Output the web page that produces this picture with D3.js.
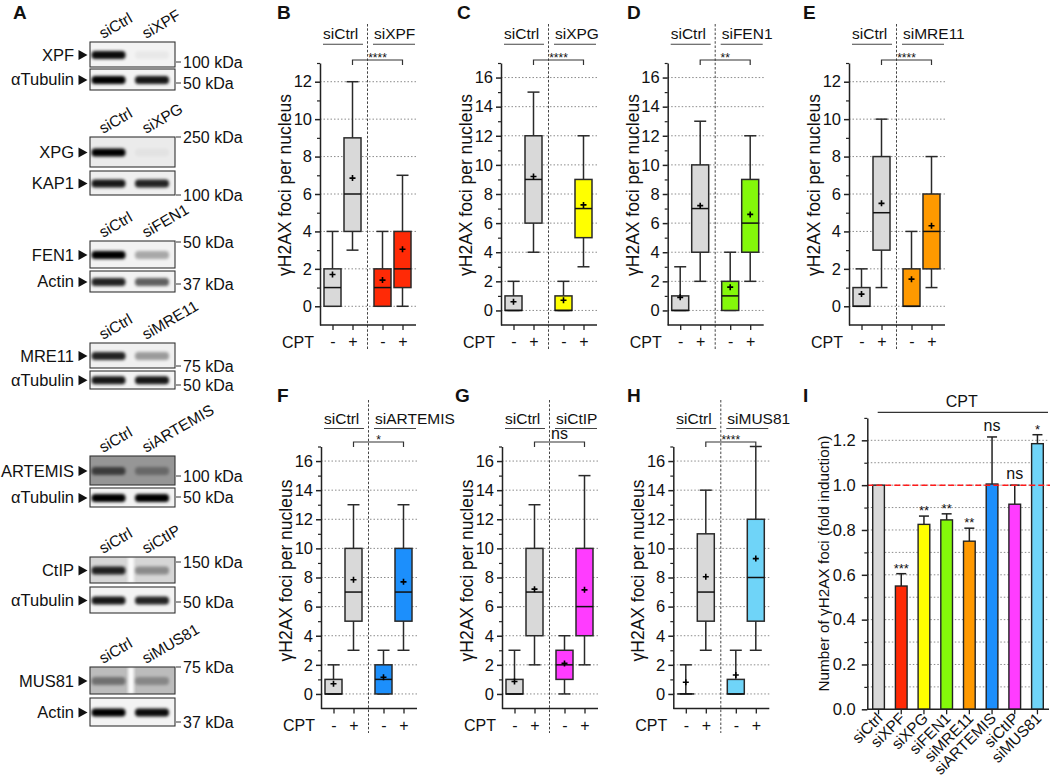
<!DOCTYPE html>
<html><head><meta charset="utf-8">
<script src="https://cdn.jsdelivr.net/npm/d3@7"></script>
<style>
body{margin:0;background:#fff}
svg{display:block}
text{font-family:"Liberation Sans",Arial,Helvetica,sans-serif;fill:#111}
</style>
</head><body>
<svg id="fig" width="1050" height="783"></svg>
<script>
// ---------------- DATA ----------------
const panelLetters = ["A","B","C","D","E","F","G","H","I"];
const controlLabel = "siCtrl";
const knockdowns = ["siXPF","siXPG","siFEN1","siMRE11","siARTEMIS","siCtIP","siMUS81"];
const cptLabels = ["-","+","-","+"];
const cptTitle = "CPT";
const boxYLabel = "γH2AX foci per nucleus";

// per condition: [whiskerLow, q1, median, q3, whiskerHigh, mean]
// order: siCtrl -CPT, siCtrl +CPT, siKD -CPT, siKD +CPT
const statsB = [[0,0,1,2,4,1.7],[3,4,6,9,12,6.85],[0,0,1,2,4,1.4],[0,1,2,4,7,3.05]];
const statsC = [[0,0,0,1,2,0.6],[4,6,9,12,15,9.2],[0,0,0,1,2,0.7],[3,5,7,9,12,7.25]];
const statsD = [[0,0,0,1,3,0.9],[2,4,7,10,13,7.2],[0,0,1,2,4,1.6],[2,4,6,9,12,6.6]];
const statsE = [[0,0,0,1,2,0.65],[1,3,5,8,10,5.5],[0,0,0,2,4,1.45],[1,2,4,6,8,4.3]];
const statsF = [[0,0,0,1,2,0.7],[3,5,7,10,13,7.85],[0,0,1,2,3,1.15],[3,5,7,10,13,7.7]];
const statsG = [[0,0,0,1,3,0.85],[2,4,7,10,13,7.2],[0,1,2,3,4,2.1],[2,4,6,10,15,7.15]];
const statsH = [[0,0,0,0,2,0.8],[3,5,7,11,14,8.05],[0,0,0,1,3,1.3],[3,5,8,12,17,9.3]];
const boxYMax = [13,17,17,13,17,17,17];
const boxSig = ["****","****","**","****","*","ns","****"];

// Panel I
const foldCategories = ["siCtrl","siXPF","siXPG","siFEN1","siMRE11","siARTEMIS","siCtIP","siMUS81"];
const foldValues = [1.0,0.55,0.825,0.845,0.75,1.005,0.915,1.185];
const foldErrors = [0,0.055,0.037,0.027,0.058,0.21,0.085,0.04];
const foldSig = ["","***","**","**","**","ns","ns","*"];
const foldTicks = [0,0.2,0.4,0.6,0.8,1.0,1.2];
const foldYLabel = "Number of γH2AX foci (fold induction)";
const foldReference = 1.0;

// Panel A (western blots)
const blotTargets = ["XPF","XPG","FEN1","MRE11","ARTEMIS","CtIP","MUS81"];
const loadingControls = ["αTubulin","KAP1","Actin","αTubulin","αTubulin","αTubulin","Actin"];
const targetBands = [[0.95,0.04],[1,0.03],[1,0.3],[0.85,0.35],[0.6,0.3],[0.85,0.35],[0.4,0.28]];
const controlBands = [[1,0.9],[0.9,0.85],[0.85,0.6],[0.9,0.9],[1,1],[0.9,0.85],[1,0.95]];
const markerTop = ["100 kDa","250 kDa","50 kDa","75 kDa","100 kDa","150 kDa","75 kDa"];
const markerBottom = ["50 kDa","100 kDa","37 kDa","50 kDa","50 kDa","50 kDa","37 kDa"];

// ---------------- STYLE / LAYOUT ----------------
const ctrlColor = "#d9d9d9";
const kdColors = ["#ff2a06","#ffff00","#84f80a","#ff9900","#1c8ffc","#ff3cff","#6fd4f8"];
const FONT = 16, FONT_S = 15.5;
const svg = d3.select("#fig");
const defs = svg.append("defs");
defs.append("filter").attr("id","blur").attr("x","-30%").attr("y","-150%").attr("width","160%").attr("height","400%")
  .append("feGaussianBlur").attr("stdDeviation",1.5);
defs.append("filter").attr("id","blur2").attr("x","-30%").attr("y","-150%").attr("width","160%").attr("height","400%")
  .append("feGaussianBlur").attr("stdDeviation",3);

// letters
const letterPos = [[13,19],[277,19],[457,19],[627,19],[803,19],[277,402],[455,402],[627,402],[803,402]];
panelLetters.forEach((l,i)=>svg.append("text").attr("x",letterPos[i][0]).attr("y",letterPos[i][1])
  .attr("font-size",19).attr("font-weight","bold").text(l));

// ---------------- PANEL A ----------------
const blotLayout = [
 {tTop:42,tH:25,cTop:69,cH:21,m1:62,m2:83},
 {tTop:137,tH:30,cTop:171,cH:24,m1:137,m2:195},
 {tTop:241,tH:27,cTop:271,cH:21,m1:242,m2:284},
 {tTop:343,tH:25,cTop:371,cH:18,m1:366,m2:385},
 {tTop:456,tH:29,cTop:488,cH:19,m1:476,m2:497},
 {tTop:557,tH:26,cTop:587,cH:26,m1:562,m2:602},
 {tTop:667,tH:27,cTop:698,cH:28,m1:667,m2:722}
];
const targetBg = ["#f3f3f3","#ebebeb","#f2f2f2","#f0f0f0","#a7a7a7","#d6d6d6","#bcbcbc"];
const controlBg = ["#f3f3f3","#efefef","#f2f2f2","#f3f3f3","#f3f3f3","#f3f3f3","#f3f3f3"];
const blotX = 90, blotW = 85, laneX = [108.5,152], bandHalf = 17;
blotTargets.forEach((name,i)=>{
  const L = blotLayout[i];
  const g = svg.append("g");
  [controlLabel, knockdowns[i]].forEach((t,k)=>g.append("text")
     .attr("transform",`translate(${[103,146][k]},${L.tTop-3}) rotate(-30)`)
     .attr("font-size",FONT_S).text(t));
  const rows = [
    {top:L.tTop,h:L.tH,bands:targetBands[i],bg:targetBg[i],label:name,gap:(i>=5)},
    {top:L.cTop,h:L.cH,bands:controlBands[i],bg:controlBg[i],label:loadingControls[i],gap:false}
  ];
  rows.forEach((r,ri)=>{
    const cid = `clip${i}_${ri}`;
    defs.append("clipPath").attr("id",cid).append("rect").attr("x",blotX).attr("y",r.top).attr("width",blotW).attr("height",r.h);
    const bg = g.append("g").attr("clip-path",`url(#${cid})`);
    bg.append("rect").attr("x",blotX).attr("y",r.top).attr("width",blotW).attr("height",r.h).attr("fill",r.bg);
    if(i===4 && ri===0){
      bg.append("rect").attr("x",blotX-5).attr("y",r.top-5).attr("width",blotW+10).attr("height",r.h+10)
        .attr("fill","#777").attr("opacity",0.35).attr("filter","url(#blur2)");
    }
    if(r.gap){
      bg.append("rect").attr("x",128).attr("y",r.top).attr("width",6).attr("height",r.h).attr("fill","#fafafa").attr("filter","url(#blur)");
    }
    const by = r.top + r.h*0.52;
    r.bands.forEach((v,k)=>{
      bg.append("rect").attr("x",laneX[k]-bandHalf).attr("y",by-4).attr("width",bandHalf*2).attr("height",8).attr("rx",3.5)
        .attr("fill","#000").attr("opacity",v).attr("filter","url(#blur)");
    });
    g.append("rect").attr("x",blotX).attr("y",r.top).attr("width",blotW).attr("height",r.h)
      .attr("fill","none").attr("stroke","#333").attr("stroke-width",1.1);
    g.append("text").attr("x",74).attr("y",by+5.5).attr("text-anchor","end").attr("font-size",16.5).text(r.label);
    g.append("path").attr("d",`M78.5,${by-5}L87.5,${by}L78.5,${by+5}Z`).attr("fill","#111");
  });
  [[L.m1,markerTop[i]],[L.m2,markerBottom[i]]].forEach(([my,t])=>{
    g.append("line").attr("x1",176).attr("x2",181).attr("y1",my).attr("y2",my).attr("stroke","#333");
    g.append("text").attr("x",183).attr("y",my+5.5).attr("font-size",FONT).text(t);
  });
});

// ---------------- BOX PANELS B-H ----------------
const boxStats = [statsB,statsC,statsD,statsE,statsF,statsG,statsH];
const boxX0 = [320,501,667.7,849,321,502,673.3];
const boxRow = [0,0,0,0,1,1,1];
const rowsL = [
  {yBot:325,yTop:63,labelY:33,lineY:44.3,bracketY:60,divTop:24,divBot:350,ylabShift:-9},
  {yBot:708.5,yTop:446.5,labelY:418,lineY:428.5,bracketY:442,divTop:400,divBot:733,ylabShift:-7}
];
const slots = [0,1,2.5,3.5];
boxStats.forEach((stats,i)=>{
  const R = rowsL[boxRow[i]], x0 = boxX0[i], xEnd = x0+96;
  const g = svg.append("g");
  const y = d3.scaleLinear().domain([-1,boxYMax[i]]).range([R.yBot,R.yTop]);
  const sx = d3.scaleLinear().domain([0,3.5]).range([x0+12.5,x0+82.5]);
  const majors = d3.range(0,boxYMax[i],2);
  const minors = d3.range(1,boxYMax[i]+1,2);
  // grid
  g.selectAll(".grid").data(majors).join("line")
    .attr("x1",x0).attr("x2",xEnd).attr("y1",d=>y(d)).attr("y2",d=>y(d))
    .attr("stroke","#8c8c8c").attr("stroke-width",1).attr("stroke-dasharray","1.5,2");
  // divider
  g.append("line").attr("x1",sx(1.75)).attr("x2",sx(1.75)).attr("y1",R.divTop).attr("y2",R.divBot)
    .attr("stroke","#444").attr("stroke-width",1).attr("stroke-dasharray","2.5,1.8");
  // y axis
  const ax = g.append("g").attr("transform",`translate(${x0},0)`)
    .call(d3.axisLeft(y).tickValues(majors).tickSize(5).tickSizeOuter(0).tickPadding(3).tickFormat(d3.format("d")));
  ax.attr("font-family",null).attr("font-size",null);
  ax.selectAll("text").attr("font-size",16.5).attr("fill","#111");
  ax.selectAll("line,path").attr("stroke","#222").attr("stroke-width",1.5);
  const axm = g.append("g").attr("transform",`translate(${x0},0)`)
    .call(d3.axisLeft(y).tickValues(minors).tickSize(3).tickFormat(""));
  axm.select(".domain").remove();
  axm.selectAll("line").attr("stroke","#222").attr("stroke-width",1.2);
  // x axis
  g.append("line").attr("x1",x0).attr("x2",xEnd).attr("y1",y(-1)).attr("y2",y(-1)).attr("stroke","#222").attr("stroke-width",1.5);
  const xa = g.append("g").attr("transform",`translate(0,${y(-1)})`)
    .call(d3.axisBottom(sx).tickValues(slots).tickSize(5).tickPadding(6).tickFormat((d,j)=>cptLabels[j]));
  xa.attr("font-family",null).attr("font-size",null);
  xa.select(".domain").remove();
  xa.selectAll("line").attr("stroke","#222").attr("stroke-width",1.3);
  xa.selectAll("text").attr("font-size",FONT).attr("fill","#111");
  g.append("text").attr("x",x0-6).attr("y",y(-1)+22.5).attr("text-anchor","end").attr("font-size",FONT).text(cptTitle);
  // y label
  g.append("text").attr("transform",`translate(${x0-35},${(R.yTop+R.yBot)/2+R.ylabShift}) rotate(-90)`)
    .attr("text-anchor","middle").attr("dy","0.35em").attr("font-size",17.5).text(boxYLabel);
  // group labels
  g.append("text").attr("x",x0+3).attr("y",R.labelY+5.5).attr("font-size",FONT_S).text(controlLabel);
  g.append("line").attr("x1",x0+3).attr("x2",x0+43).attr("y1",R.lineY).attr("y2",R.lineY).attr("stroke","#444").attr("stroke-width",1.1);
  g.append("text").attr("x",x0+54).attr("y",R.labelY+5.5).attr("font-size",FONT_S).text(knockdowns[i]);
  g.append("line").attr("x1",x0+53).attr("x2",x0+95).attr("y1",R.lineY).attr("y2",R.lineY).attr("stroke","#444").attr("stroke-width",1.1);
  // boxes
  const bw = 17, cap = 12;
  stats.forEach((s,j)=>{
    const [lo,q1,md,q3,hi,mn] = s;
    const cx = sx(slots[j]);
    const col = j<2 ? ctrlColor : kdColors[i];
    const st = "#2a2a2a";
    g.append("line").attr("x1",cx).attr("x2",cx).attr("y1",y(lo)).attr("y2",y(q1)).attr("stroke",st).attr("stroke-width",1.5);
    g.append("line").attr("x1",cx).attr("x2",cx).attr("y1",y(q3)).attr("y2",y(hi)).attr("stroke",st).attr("stroke-width",1.5);
    [lo,hi].forEach(v=>g.append("line").attr("x1",cx-cap/2).attr("x2",cx+cap/2).attr("y1",y(v)).attr("y2",y(v)).attr("stroke",st).attr("stroke-width",1.5));
    g.append("rect").attr("x",cx-bw/2).attr("width",bw).attr("y",y(q3)).attr("height",y(q1)-y(q3))
      .attr("fill",col).attr("stroke",st).attr("stroke-width",1.5);
    g.append("line").attr("x1",cx-bw/2).attr("x2",cx+bw/2).attr("y1",y(md)).attr("y2",y(md)).attr("stroke","#111").attr("stroke-width",1.5);
    g.append("path").attr("d",`M${cx-3},${y(mn)}H${cx+3}M${cx},${y(mn)-3}V${y(mn)+3}`).attr("stroke","#000").attr("stroke-width",1.6);
  });
  // significance bracket
  const c2 = sx(slots[1]), c4 = sx(slots[3]), by = R.bracketY;
  g.append("path").attr("d",`M${c2},${by+5}V${by}H${c4}V${by+5}`).attr("fill","none").attr("stroke","#333").attr("stroke-width",1.2);
  const isNs = boxSig[i]==="ns";
  g.append("text").attr("x",(c2+c4)/2).attr("y",isNs?by-3:by+2).attr("text-anchor","middle")
    .attr("font-size",isNs?FONT:12).text(boxSig[i]);
});

// ---------------- PANEL I ----------------
(function(){
  const x0 = 867.3, xEnd = 1049;
  const y = d3.scaleLinear().domain([0,1.3]).range([709.3,417.9]);
  const x = d3.scaleBand().domain(foldCategories).range([867.2,1048.8]).paddingInner(0.485).paddingOuter(0.2425);
  const g = svg.append("g");
  const grid = d3.range(1,13).map(k=>k/10);
  g.selectAll(".gi").data(grid).join("line").attr("x1",x0).attr("x2",xEnd)
    .attr("y1",d=>y(d)).attr("y2",d=>y(d)).attr("stroke","#8c8c8c").attr("stroke-dasharray","1.5,2");
  // bars
  foldCategories.forEach((c,i)=>{
    const xc = x(c)+x.bandwidth()/2;
    const col = i===0 ? ctrlColor : kdColors[i-1];
    if(foldErrors[i]>0){
      const top = y(foldValues[i]+foldErrors[i]);
      g.append("line").attr("x1",xc).attr("x2",xc).attr("y1",y(foldValues[i])).attr("y2",top).attr("stroke","#222").attr("stroke-width",1.5);
      g.append("line").attr("x1",xc-5).attr("x2",xc+5).attr("y1",top).attr("y2",top).attr("stroke","#222").attr("stroke-width",1.5);
    }
    g.append("rect").attr("x",x(c)).attr("width",x.bandwidth()).attr("y",y(foldValues[i])).attr("height",y(0)-y(foldValues[i]))
      .attr("fill",col).attr("stroke","#222").attr("stroke-width",1.4);
    if(foldSig[i]){
      const top = y(foldValues[i]+foldErrors[i]);
      const ns = foldSig[i]==="ns";
      g.append("text").attr("x",xc).attr("y",ns?top-6:top-1).attr("text-anchor","middle")
        .attr("font-size",ns?FONT:13).text(foldSig[i]);
    }
  });
  // reference
  g.append("line").attr("x1",x0).attr("x2",1050).attr("y1",y(foldReference)).attr("y2",y(foldReference))
    .attr("stroke","#ff1a1a").attr("stroke-width",1.5).attr("stroke-dasharray","6,3");
  // axes
  const ax = g.append("g").attr("transform",`translate(${x0},0)`)
    .call(d3.axisLeft(y).tickValues(foldTicks).tickSize(5.5).tickSizeOuter(0).tickPadding(6).tickFormat(d3.format(".1f")));
  ax.attr("font-family",null).attr("font-size",null);
  ax.selectAll("text").attr("font-size",16.5).attr("fill","#111");
  ax.selectAll("line,path").attr("stroke","#222").attr("stroke-width",1.5);
  const axm = g.append("g").attr("transform",`translate(${x0},0)`)
    .call(d3.axisLeft(y).tickValues([0.1,0.3,0.5,0.7,0.9,1.1,1.3]).tickSize(3).tickFormat(""));
  axm.select(".domain").remove();
  axm.selectAll("line").attr("stroke","#222").attr("stroke-width",1.2);
  g.append("line").attr("x1",x0).attr("x2",xEnd).attr("y1",y(0)).attr("y2",y(0)).attr("stroke","#222").attr("stroke-width",1.5);
  const xa = g.append("g").attr("transform",`translate(0,${y(0)})`)
    .call(d3.axisBottom(x).tickSize(5).tickFormat(""));
  xa.select(".domain").remove();
  xa.selectAll("line").attr("stroke","#222").attr("stroke-width",1.3);
  foldCategories.forEach(c=>{
    const xc = x(c)+x.bandwidth()/2;
    g.append("text").attr("transform",`translate(${xc+5},${y(0)+10}) rotate(-45)`).attr("text-anchor","end")
      .attr("font-size",FONT_S).text(c);
  });
  // CPT bar
  g.append("text").attr("x",961.7).attr("y",406.5).attr("text-anchor","middle").attr("font-size",FONT).text(cptTitle);
  g.append("line").attr("x1",877.7).attr("x2",1048).attr("y1",412.3).attr("y2",412.3).attr("stroke","#333").attr("stroke-width",1.2);
  // y label
  g.append("text").attr("transform",`translate(824,${(y(0)+y(1.3))/2}) rotate(-90)`).attr("text-anchor","middle")
    .attr("dy","0.35em").attr("font-size",15.3).text(foldYLabel);
})();
</script>
</body></html>
